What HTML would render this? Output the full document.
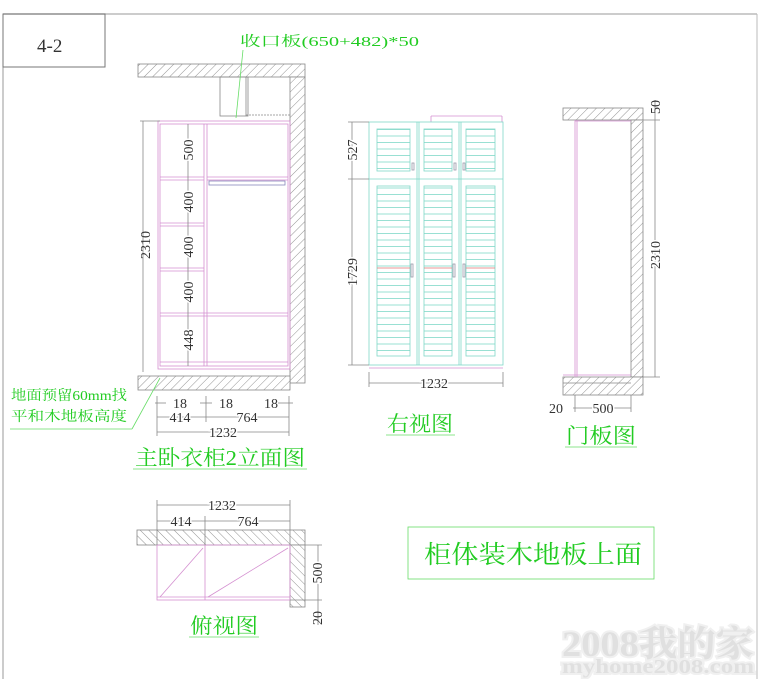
<!DOCTYPE html>
<html><head><meta charset="utf-8"><style>
html,body{margin:0;padding:0;background:#fff;width:765px;height:679px;overflow:hidden}
svg{display:block}
text{font-family:"Liberation Serif","Noto Serif CJK SC",serif}
</style></head><body>
<svg width="765" height="679" viewBox="0 0 765 679" xmlns="http://www.w3.org/2000/svg">
<defs>
<pattern id="h" width="6" height="6" patternUnits="userSpaceOnUse" patternTransform="rotate(45)">
<rect width="6" height="6" fill="#fff"/><line x1="0" y1="0" x2="0" y2="6" stroke="#777" stroke-width="0.8"/></pattern>
<pattern id="h2" width="6" height="6" patternUnits="userSpaceOnUse" patternTransform="rotate(-45)">
<rect width="6" height="6" fill="#fff"/><line x1="0" y1="0" x2="0" y2="6" stroke="#777" stroke-width="0.8"/></pattern>
<pattern id="lv" width="10" height="6.5" patternUnits="userSpaceOnUse" y="129">
<line x1="0" y1="0.5" x2="10" y2="0.5" stroke="#7fd8c8" stroke-width="0.8"/></pattern>
</defs>
<line x1="3" y1="14" x2="757" y2="14" stroke="#bbb" stroke-width="1.5"/>
<line x1="3" y1="14" x2="3" y2="679" stroke="#999" stroke-width="1"/>
<line x1="757" y1="14" x2="757" y2="679" stroke="#bbb" stroke-width="1"/>
<rect x="3" y="14" width="102" height="53" fill="none" stroke="#777"/>
<text x="37" y="52" font-size="19" fill="#333">4-2</text>

<g stroke="#888" stroke-width="0.8" fill="none" font-size="13">
<rect x="138" y="64" width="167" height="13" fill="url(#h)"/>
<rect x="290" y="77" width="15" height="306" fill="url(#h)"/>
<rect x="220" y="77" width="28" height="39"/>
<line x1="246" y1="77" x2="246" y2="116"/>
<line x1="246" y1="115" x2="290" y2="115" stroke-dasharray="2 1"/>
<rect x="138" y="376" width="152" height="14" fill="url(#h)"/>
<g stroke="#d48fd0">
<rect x="158" y="121" width="132" height="248"/>
<rect x="160" y="124" width="128" height="242"/>
<line x1="204" y1="124" x2="204" y2="366"/><line x1="207" y1="124" x2="207" y2="366"/>
<line x1="160" y1="177" x2="204" y2="177"/><line x1="160" y1="180" x2="204" y2="180"/>
<line x1="207" y1="177" x2="288" y2="177"/><line x1="207" y1="180" x2="288" y2="180"/>
<line x1="160" y1="223" x2="204" y2="223"/><line x1="160" y1="226" x2="204" y2="226"/>
<line x1="160" y1="268" x2="204" y2="268"/><line x1="160" y1="271" x2="204" y2="271"/>
<line x1="160" y1="313" x2="288" y2="313"/><line x1="160" y1="316" x2="288" y2="316"/>
<line x1="160" y1="362" x2="288" y2="362"/>
</g>
<rect x="209" y="181" width="76" height="4" stroke="#8888bb"/>
<line x1="143" y1="121" x2="143" y2="372"/>
<line x1="140" y1="121" x2="160" y2="121"/>
<line x1="188" y1="124" x2="188" y2="366"/>
<line x1="157" y1="396" x2="157" y2="436"/><line x1="206" y1="396" x2="206" y2="422"/><line x1="289" y1="396" x2="289" y2="436"/>
<line x1="155" y1="403" x2="166" y2="403"/><line x1="200" y1="403" x2="212" y2="403"/><line x1="278" y1="403" x2="293" y2="403"/>
<line x1="157" y1="417" x2="289" y2="417"/>
<line x1="157" y1="432" x2="289" y2="432"/>
<line x1="431" y1="116" x2="502" y2="116" stroke="#d48fd0"/><line x1="431" y1="116" x2="431" y2="122" stroke="#d48fd0"/><line x1="502" y1="116" x2="502" y2="122" stroke="#d48fd0"/>
<g stroke="#7fd8c8">
<rect x="369" y="122" width="134" height="243"/>
<line x1="417" y1="122" x2="417" y2="365"/><line x1="419" y1="122" x2="419" y2="365"/>
<line x1="459" y1="122" x2="459" y2="365"/><line x1="461" y1="122" x2="461" y2="365"/>
<line x1="369" y1="179" x2="503" y2="179"/>
<rect x="377" y="129" width="33" height="42" fill="url(#lv)"/>
<rect x="424" y="129" width="28" height="42" fill="url(#lv)"/>
<rect x="466" y="129" width="29" height="42" fill="url(#lv)"/>
<rect x="377" y="186" width="33" height="170" fill="url(#lv)"/>
<rect x="424" y="186" width="28" height="170" fill="url(#lv)"/>
<rect x="466" y="186" width="29" height="170" fill="url(#lv)"/>
</g>
<line x1="377" y1="268" x2="410" y2="268" stroke="#e07070"/><line x1="424" y1="268" x2="452" y2="268" stroke="#e07070"/><line x1="466" y1="268" x2="495" y2="268" stroke="#e07070"/>
<rect x="412" y="163" width="2" height="7" stroke="#99a"/><rect x="454" y="163" width="2" height="7" stroke="#99a"/><rect x="463" y="163" width="2" height="7" stroke="#99a"/>
<rect x="411" y="264" width="2" height="13" stroke="#99a"/><rect x="453" y="264" width="2" height="13" stroke="#99a"/><rect x="463" y="264" width="2" height="13" stroke="#99a"/>
<line x1="369" y1="368" x2="503" y2="368" stroke="#d48fd0"/>
<line x1="352" y1="122" x2="352" y2="365"/>
<line x1="348" y1="122" x2="369" y2="122"/><line x1="348" y1="179" x2="369" y2="179"/><line x1="348" y1="365" x2="369" y2="365"/>
<line x1="369" y1="383" x2="503" y2="383"/><line x1="369" y1="372" x2="369" y2="387"/><line x1="503" y1="372" x2="503" y2="387"/>
<rect x="563" y="108" width="80" height="12" fill="url(#h)"/>
<rect x="631" y="120" width="12" height="257" fill="url(#h)"/>
<rect x="563" y="377" width="80" height="18" fill="url(#h)"/>
<line x1="563" y1="383" x2="631" y2="383"/>
<line x1="575" y1="120" x2="575" y2="377" stroke="#d48fd0"/>
<line x1="577" y1="120" x2="577" y2="377" stroke="#d48fd0"/>
<line x1="575" y1="121" x2="631" y2="121" stroke="#d48fd0"/>
<line x1="563" y1="375" x2="631" y2="375" stroke="#d48fd0"/>
<line x1="655" y1="100" x2="655" y2="377"/>
<line x1="643" y1="120" x2="660" y2="120"/><line x1="643" y1="377" x2="660" y2="377"/>
<line x1="573" y1="408" x2="631" y2="408"/><line x1="575" y1="395" x2="575" y2="412"/><line x1="631" y1="395" x2="631" y2="412"/>
<rect x="137" y="530" width="168" height="15" fill="url(#h2)"/>
<rect x="290" y="545" width="15" height="62" fill="url(#h2)"/>
<g stroke="#d48fd0">
<rect x="157" y="545" width="133" height="55"/>
<line x1="205" y1="545" x2="205" y2="600"/>
<line x1="157" y1="597" x2="290" y2="597"/>
<line x1="160" y1="597" x2="203" y2="548"/>
<line x1="208" y1="597" x2="288" y2="548"/>
</g>
<line x1="157" y1="505" x2="290" y2="505"/><line x1="157" y1="521" x2="290" y2="521"/>
<line x1="157" y1="500" x2="157" y2="545"/><line x1="205" y1="516" x2="205" y2="545"/><line x1="290" y1="500" x2="290" y2="545"/>
<line x1="318" y1="545" x2="318" y2="625"/>
<line x1="305" y1="545" x2="322" y2="545"/><line x1="290" y1="600" x2="322" y2="600"/>
</g>

<g fill="#333" font-size="14" text-anchor="middle">
<text transform="translate(150,245) rotate(-90)">2310</text>
<text transform="translate(193,150) rotate(-90)" style="paint-order:stroke" stroke="#fff" stroke-width="3">500</text>
<text transform="translate(193,202) rotate(-90)" style="paint-order:stroke" stroke="#fff" stroke-width="3">400</text>
<text transform="translate(193,247) rotate(-90)" style="paint-order:stroke" stroke="#fff" stroke-width="3">400</text>
<text transform="translate(193,292) rotate(-90)" style="paint-order:stroke" stroke="#fff" stroke-width="3">400</text>
<text transform="translate(193,340) rotate(-90)" style="paint-order:stroke" stroke="#fff" stroke-width="3">448</text>
<text x="180" y="408">18</text><text x="226" y="408">18</text><text x="271" y="408">18</text>
<text x="180" y="422" style="paint-order:stroke" stroke="#fff" stroke-width="3">414</text>
<text x="247" y="422" style="paint-order:stroke" stroke="#fff" stroke-width="3">764</text>
<text x="223" y="437" style="paint-order:stroke" stroke="#fff" stroke-width="3">1232</text>
<text transform="translate(357,150) rotate(-90)" style="paint-order:stroke" stroke="#fff" stroke-width="3">527</text>
<text transform="translate(357,272) rotate(-90)" style="paint-order:stroke" stroke="#fff" stroke-width="3">1729</text>
<text x="434" y="388" style="paint-order:stroke" stroke="#fff" stroke-width="3">1232</text>
<text transform="translate(660,107) rotate(-90)">50</text>
<text transform="translate(660,255) rotate(-90)" style="paint-order:stroke" stroke="#fff" stroke-width="3">2310</text>
<text x="556" y="413">20</text>
<text x="603" y="413" style="paint-order:stroke" stroke="#fff" stroke-width="3">500</text>
<text x="222" y="510" style="paint-order:stroke" stroke="#fff" stroke-width="3">1232</text>
<text x="181" y="526" style="paint-order:stroke" stroke="#fff" stroke-width="3">414</text>
<text x="248" y="526" style="paint-order:stroke" stroke="#fff" stroke-width="3">764</text>
<text transform="translate(322,573) rotate(-90)" style="paint-order:stroke" stroke="#fff" stroke-width="3">500</text>
<text transform="translate(322,618) rotate(-90)">20</text>
</g>

<g fill="#22cc22">
<text x="240" y="46" font-size="14" textLength="179" lengthAdjust="spacingAndGlyphs">收口板(650+482)*50</text>
<text x="11" y="400" font-size="14" textLength="116" lengthAdjust="spacingAndGlyphs">地面预留60mm找</text>
<text x="11" y="421" font-size="14" textLength="116" lengthAdjust="spacingAndGlyphs">平和木地板高度</text>
<text x="135" y="465" font-size="21" textLength="170" lengthAdjust="spacingAndGlyphs">主卧衣柜2立面图</text>
<text x="387" y="431" font-size="21" textLength="66" lengthAdjust="spacingAndGlyphs">右视图</text>
<text x="566" y="443" font-size="21" textLength="70" lengthAdjust="spacingAndGlyphs">门板图</text>
<text x="190" y="633" font-size="21" textLength="68" lengthAdjust="spacingAndGlyphs">俯视图</text>
<text x="424" y="563" font-size="25" textLength="218" lengthAdjust="spacingAndGlyphs">柜体装木地板上面</text>
</g>
<g stroke="#66dd66" stroke-width="0.8" fill="none">
<line x1="243" y1="50" x2="236" y2="118"/>
<line x1="10" y1="429" x2="132" y2="429"/><line x1="132" y1="429" x2="160" y2="378"/>
<line x1="133" y1="469" x2="307" y2="469"/>
<line x1="386" y1="435" x2="455" y2="435"/>
<line x1="565" y1="447" x2="637" y2="447"/>
<line x1="189" y1="637" x2="259" y2="637"/>
<rect x="408" y="527" width="246" height="52"/>
</g>
<g fill="#e0e0e0" font-weight="bold" style="paint-order:stroke" stroke="#f0f0f0" stroke-width="4">
<text x="562" y="656" font-size="36" textLength="192" lengthAdjust="spacingAndGlyphs">2008我的家</text>
<text x="562" y="673" font-size="20" textLength="192" lengthAdjust="spacingAndGlyphs">myhome2008.com</text>
</g>
</svg>
</body></html>
